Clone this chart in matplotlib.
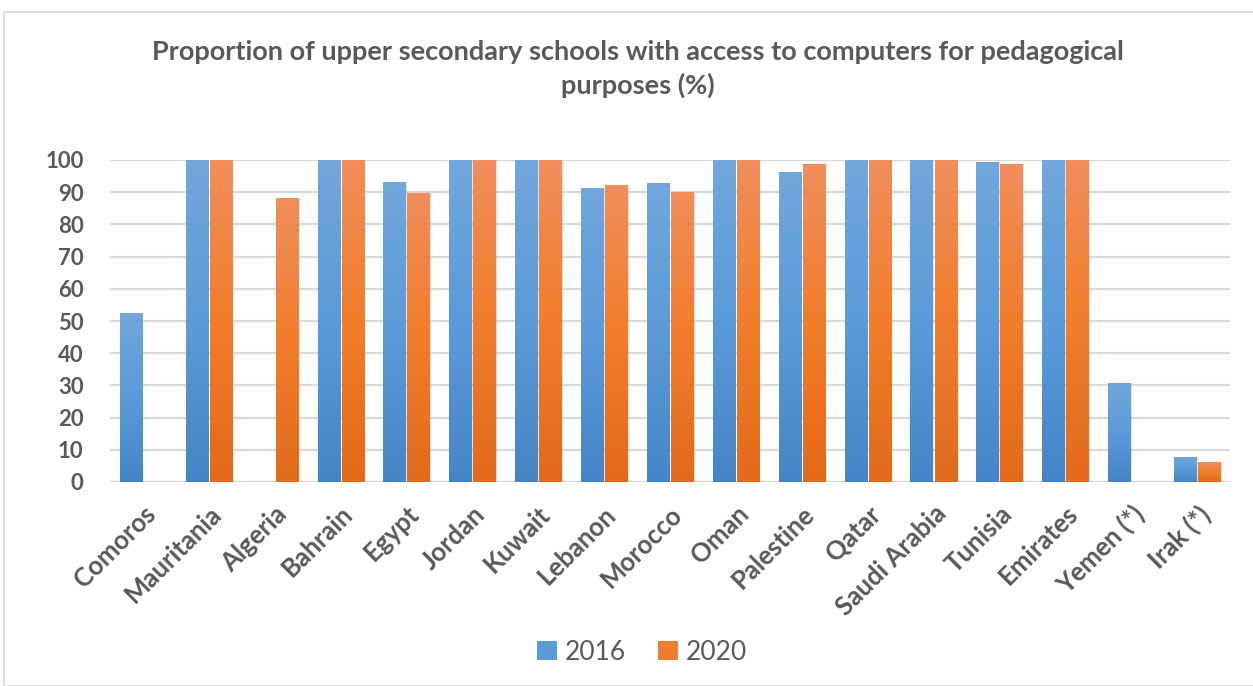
import numpy as np
import matplotlib
matplotlib.use("Agg")
import matplotlib.pyplot as plt
from matplotlib.colors import LinearSegmentedColormap
from matplotlib.patches import Rectangle, Patch

countries = ["Comoros", "Mauritania", "Algeria", "Bahrain", "Egypt", "Jordan", "Kuwait",
             "Lebanon", "Morocco", "Oman", "Palestine", "Qatar", "Saudi Arabia", "Tunisia",
             "Emirates", "Yemen (*)", "Irak (*)"]
v2016 = [52.5, 100, np.nan, 100, 93.2, 100, 100, 91.3, 92.9, 100, 96.3, 100, 100, 99.4, 100, 30.7, 7.8]
v2020 = [np.nan, 100, 88.2, 100, 89.8, 100, 100, 92.2, 90.2, 100, 98.8, 100, 100, 98.8, 100, np.nan, 6.2]
series_labels = ["2016", "2020"]
title = "Proportion of upper secondary schools with access to computers for pedagogical\npurposes (%)"

plt.rcParams['font.family'] = ['Lato', 'DejaVu Sans']
txt = "#595959"

fig = plt.figure(figsize=(12.53, 6.86), dpi=100)
fig.patches.append(Rectangle((4/1253, 0), 1.2, (686-12)/686, transform=fig.transFigure,
                             fill=False, edgecolor="#d9d9d9", linewidth=1.2))
ax = fig.add_axes([110/1253, 204/686, 1120/1253, 322/686])

blue_cmap = LinearSegmentedColormap.from_list("b", ["#4385c6", "#5b9bd9", "#71a7dc"])
orange_cmap = LinearSegmentedColormap.from_list("o", ["#e26a1a", "#f27d2a", "#f08e5c"])

x = np.arange(len(countries))
w = 0.335
gap = 0.03
grad = np.linspace(0, 1, 256).reshape(-1, 1)

for vals, off, cmap in [(v2016, -(w/2 + gap/2), blue_cmap),
                        (v2020, (w/2 + gap/2), orange_cmap)]:
    vals = np.array(vals, dtype=float)
    mask = ~np.isnan(vals)
    # soft shadow
    ax.bar(x[mask] + off + 0.012, vals[mask], w + 0.02, color="#000000", alpha=0.10,
           zorder=2, linewidth=0)
    bars = ax.bar(x[mask] + off, vals[mask], w, color="none", zorder=3, linewidth=0)
    for b in bars:
        x0, y0 = b.get_x(), b.get_y()
        bw, bh = b.get_width(), b.get_height()
        im = ax.imshow(grad, extent=[x0, x0 + bw, y0, y0 + bh], origin="lower",
                       aspect="auto", cmap=cmap, zorder=3)
        im.set_clip_path(b)

ax.set_xlim(-0.5, len(countries) - 0.5)
ax.set_ylim(0, 100)
ax.set_yticks(np.arange(0, 101, 10))
ax.yaxis.grid(True, color="#d9d9d9", linewidth=1.6, zorder=0)
ax.set_axisbelow(True)
for s in ax.spines.values():
    s.set_visible(False)
ax.tick_params(length=0)
ax.set_xticks(x)
ax.set_xticklabels(countries, rotation=45, ha="right", rotation_mode="anchor",
                   fontsize=18.5, fontweight="bold", color=txt)
ax.tick_params(axis="x", pad=14)
ax.tick_params(axis="y", pad=19)
for lab in ax.get_yticklabels():
    lab.set_fontsize(16)
    lab.set_fontweight("bold")
    lab.set_color(txt)

fig.text(638/1253, 1 - 69/686, title, ha="center", va="center", fontsize=19.5,
         fontweight="bold", color=txt, linespacing=1.42)

handles = [Patch(facecolor="#5b9bd5", edgecolor="none"), Patch(facecolor="#ed7d31", edgecolor="none")]
fig.legend(handles, series_labels, loc="center", bbox_to_anchor=(642/1253, 1 - 652/686),
           ncol=2, frameon=False, fontsize=19, labelcolor=txt, handlelength=0.75,
           handleheight=0.75, handletextpad=0.3, columnspacing=1.2)

fig.savefig("out.png", dpi=100)
